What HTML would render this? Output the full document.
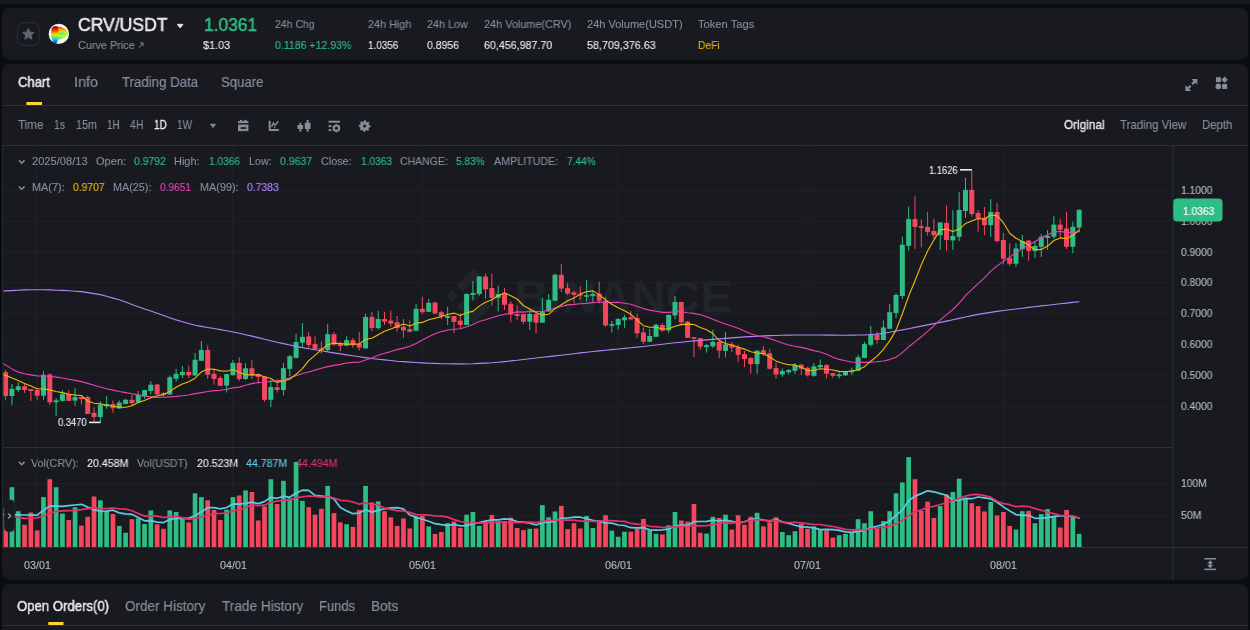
<!DOCTYPE html><html><head><meta charset="utf-8"><title>CRV/USDT</title><style>
html,body{margin:0;padding:0;background:#0b0e11}body{width:1250px;height:630px;position:relative;overflow:hidden;font-family:"Liberation Sans",sans-serif}.p{position:absolute;background:#181a20}.t{will-change:transform;position:absolute;white-space:nowrap;line-height:1;transform-origin:0 0;display:block}
</style></head><body>
<div class="p" style="left:0;top:0;width:1250px;height:4px"></div>
<div class="p" style="left:2px;top:8px;width:1246px;height:52px;border-radius:8px"></div>
<div class="p" style="left:2px;top:64px;width:1246px;height:516px;border-radius:8px"></div>
<div class="p" style="left:2px;top:584px;width:1246px;height:60px;border-radius:8px 8px 0 0"></div>
<span class="t" id="t49" style="left:31.4px;top:457.86px;font-size:10.8px;color:#848e9c;-webkit-text-stroke:0.12px #848e9c;transform:scaleX(0.9958)">Vol(CRV):</span>
<span class="t" id="t50" style="left:87.4px;top:457.86px;font-size:10.8px;color:#eaecef;-webkit-text-stroke:0.12px #eaecef;transform:scaleX(0.9857)">20.458M</span>
<span class="t" id="t51" style="left:137.2px;top:457.86px;font-size:10.8px;color:#848e9c;-webkit-text-stroke:0.12px #848e9c;transform:scaleX(0.9808)">Vol(USDT)</span>
<span class="t" id="t52" style="left:196.9px;top:457.86px;font-size:10.8px;color:#eaecef;-webkit-text-stroke:0.12px #eaecef;transform:scaleX(0.9786)">20.523M</span>
<span class="t" id="t53" style="left:246.4px;top:457.86px;font-size:10.8px;color:#5ccbe6;-webkit-text-stroke:0.12px #5ccbe6;transform:scaleX(0.9810)">44.787M</span>
<span class="t" id="t54" style="left:296.0px;top:457.86px;font-size:10.8px;color:#e0336a;-webkit-text-stroke:0.12px #e0336a;transform:scaleX(0.9857)">44.494M</span>
<span class="t" id="t57" style="left:1181.4px;top:184.86px;font-size:10.8px;color:#b7bdc6;-webkit-text-stroke:0.12px #b7bdc6;transform:scaleX(0.9515)">1.1000</span>
<span class="t" id="t58" style="left:1181.4px;top:215.69px;font-size:10.8px;color:#b7bdc6;-webkit-text-stroke:0.12px #b7bdc6;transform:scaleX(0.9515)">1.0000</span>
<span class="t" id="t59" style="left:1181.4px;top:246.52px;font-size:10.8px;color:#b7bdc6;-webkit-text-stroke:0.12px #b7bdc6;transform:scaleX(0.9515)">0.9000</span>
<span class="t" id="t60" style="left:1181.4px;top:277.35px;font-size:10.8px;color:#b7bdc6;-webkit-text-stroke:0.12px #b7bdc6;transform:scaleX(0.9515)">0.8000</span>
<span class="t" id="t61" style="left:1181.4px;top:308.18px;font-size:10.8px;color:#b7bdc6;-webkit-text-stroke:0.12px #b7bdc6;transform:scaleX(0.9515)">0.7000</span>
<span class="t" id="t62" style="left:1181.4px;top:339.01px;font-size:10.8px;color:#b7bdc6;-webkit-text-stroke:0.12px #b7bdc6;transform:scaleX(0.9515)">0.6000</span>
<span class="t" id="t63" style="left:1181.4px;top:369.84px;font-size:10.8px;color:#b7bdc6;-webkit-text-stroke:0.12px #b7bdc6;transform:scaleX(0.9515)">0.5000</span>
<span class="t" id="t64" style="left:1181.4px;top:400.67px;font-size:10.8px;color:#b7bdc6;-webkit-text-stroke:0.12px #b7bdc6;transform:scaleX(0.9515)">0.4000</span>
<span class="t" id="t79" style="left:513.5px;top:275.23px;font-size:44.5px;color:#212429;font-weight:700;transform:scaleX(1.0768)">BINANCE</span>
<svg width="1250" height="630" viewBox="0 0 1250 630" style="position:absolute;left:0;top:0">
<defs><clipPath id="cm"><rect x="3.4" y="146" width="1169.1" height="301"/></clipPath><clipPath id="cv"><rect x="3.4" y="448" width="1169.1" height="99.5"/></clipPath><linearGradient id="g1" x1="0" y1="0" x2="0" y2="1"><stop offset="0" stop-color="#8a0000"/><stop offset=".18" stop-color="#e01800"/><stop offset=".38" stop-color="#ff8c00"/><stop offset=".52" stop-color="#e8f000"/><stop offset=".66" stop-color="#38f088"/><stop offset=".8" stop-color="#00c8f0"/><stop offset="1" stop-color="#0010e0"/></linearGradient><linearGradient id="g2" x1="0" y1="0" x2="0" y2="1"><stop offset="0" stop-color="#ff3000"/><stop offset=".25" stop-color="#ffb000"/><stop offset=".45" stop-color="#c8f820"/><stop offset=".55" stop-color="#60f870"/><stop offset=".7" stop-color="#e8f000"/><stop offset=".85" stop-color="#60f080"/><stop offset="1" stop-color="#10e8d8"/></linearGradient></defs>
<rect x="3" y="189.5" width="1169.5" height="1" fill="#1f2329"/>
<rect x="3" y="220.5" width="1169.5" height="1" fill="#1f2329"/>
<rect x="3" y="251.5" width="1169.5" height="1" fill="#1f2329"/>
<rect x="3" y="282.5" width="1169.5" height="1" fill="#1f2329"/>
<rect x="3" y="313.5" width="1169.5" height="1" fill="#1f2329"/>
<rect x="3" y="343.5" width="1169.5" height="1" fill="#1f2329"/>
<rect x="3" y="374.5" width="1169.5" height="1" fill="#1f2329"/>
<rect x="3" y="405.5" width="1169.5" height="1" fill="#1f2329"/>
<rect x="3" y="483.0" width="1169.5" height="1" fill="#1f2329"/>
<rect x="3" y="515.0" width="1169.5" height="1" fill="#1f2329"/>
<rect x="36.5" y="146" width="1" height="401" fill="#1f2329"/>
<rect x="232.5" y="146" width="1" height="401" fill="#1f2329"/>
<rect x="421.5" y="146" width="1" height="401" fill="#1f2329"/>
<rect x="617.5" y="146" width="1" height="401" fill="#1f2329"/>
<rect x="807.5" y="146" width="1" height="401" fill="#1f2329"/>
<rect x="1002.5" y="146" width="1" height="401" fill="#1f2329"/>
<rect x="2" y="105" width="1246" height="1" fill="#2b3139"/>
<rect x="2" y="145" width="1246" height="1" fill="#2b3139"/>
<rect x="2" y="447" width="1170.5" height="1" fill="#2b3139"/>
<rect x="2" y="547" width="1246" height="1" fill="#2b3139"/>
<rect x="1172.5" y="146" width="1" height="434" fill="#2b3139"/>
<rect x="2" y="146" width="1" height="402" fill="#252930"/>
<rect x="2" y="625" width="1246" height="1" fill="#2b3139"/>
<rect x="26.4" y="102" width="15.6" height="3" fill="#fcd535"/>
<rect x="48.3" y="622" width="15.2" height="3" fill="#fcd535"/>
<g fill="#212429">
<g transform="translate(445.8 267.9) scale(0.4423)"><path d="M38.73,53.2 L63.3,28.63 L87.88,53.21 L102.18,38.91 L63.3,0 L24.43,38.9 Z"/><path d="M0,63.31 L14.3,49.01 L28.6,63.31 L14.3,77.61 Z"/><path d="M38.73,73.41 L63.3,98 L87.88,73.4 L102.18,87.69 L63.3,126.61 L24.43,87.7 Z"/><path d="M98,63.31 L112.3,49.01 L126.6,63.31 L112.3,77.61 Z"/><path d="M77.83,63.3 L63.3,48.78 L48.8,63.28 L63.3,77.82 Z"/></g>
</g>
<g clip-path="url(#cm)">
<rect x="5.10" y="370.0" width="1" height="29.8" fill="#f6465d"/><rect x="3.10" y="372.1" width="5" height="23.9" fill="#f6465d"/>
<rect x="11.41" y="384.0" width="1" height="21.0" fill="#2ebd85"/><rect x="9.41" y="388.9" width="5" height="7.1" fill="#2ebd85"/>
<rect x="17.73" y="382.2" width="1" height="9.8" fill="#2ebd85"/><rect x="15.73" y="386.3" width="5" height="3.7" fill="#2ebd85"/>
<rect x="24.05" y="384.2" width="1" height="8.7" fill="#f6465d"/><rect x="22.05" y="386.3" width="5" height="3.7" fill="#f6465d"/>
<rect x="30.36" y="389.1" width="1" height="11.8" fill="#f6465d"/><rect x="28.36" y="389.1" width="5" height="1.9" fill="#f6465d"/>
<rect x="36.68" y="388.4" width="1" height="11.4" fill="#f6465d"/><rect x="34.68" y="390.0" width="5" height="5.7" fill="#f6465d"/>
<rect x="42.99" y="371.2" width="1" height="28.6" fill="#2ebd85"/><rect x="40.99" y="374.9" width="5" height="20.8" fill="#2ebd85"/>
<rect x="49.31" y="373.3" width="1" height="31.5" fill="#f6465d"/><rect x="47.31" y="374.4" width="5" height="28.0" fill="#f6465d"/>
<rect x="55.62" y="398.1" width="1" height="17.9" fill="#2ebd85"/><rect x="53.62" y="400.4" width="5" height="1.8" fill="#2ebd85"/>
<rect x="61.94" y="390.2" width="1" height="11.2" fill="#2ebd85"/><rect x="59.94" y="394.1" width="5" height="6.8" fill="#2ebd85"/>
<rect x="68.25" y="390.0" width="1" height="10.9" fill="#f6465d"/><rect x="66.25" y="393.9" width="5" height="7.0" fill="#f6465d"/>
<rect x="74.56" y="388.4" width="1" height="17.4" fill="#2ebd85"/><rect x="72.56" y="397.0" width="5" height="3.6" fill="#2ebd85"/>
<rect x="80.88" y="396.7" width="1" height="7.8" fill="#f6465d"/><rect x="78.88" y="397.0" width="5" height="2.1" fill="#f6465d"/>
<rect x="87.19" y="395.7" width="1" height="18.2" fill="#f6465d"/><rect x="85.19" y="397.0" width="5" height="16.9" fill="#f6465d"/>
<rect x="93.51" y="407.1" width="1" height="14.6" fill="#f6465d"/><rect x="91.51" y="412.8" width="5" height="4.2" fill="#f6465d"/>
<rect x="99.83" y="401.2" width="1" height="21.0" fill="#2ebd85"/><rect x="97.83" y="405.0" width="5" height="12.0" fill="#2ebd85"/>
<rect x="106.14" y="396.0" width="1" height="12.9" fill="#2ebd85"/><rect x="104.14" y="404.0" width="5" height="2.3" fill="#2ebd85"/>
<rect x="112.45" y="400.4" width="1" height="12.4" fill="#f6465d"/><rect x="110.45" y="404.0" width="5" height="4.2" fill="#f6465d"/>
<rect x="118.77" y="400.4" width="1" height="8.3" fill="#2ebd85"/><rect x="116.77" y="402.6" width="5" height="5.9" fill="#2ebd85"/>
<rect x="125.09" y="398.8" width="1" height="5.5" fill="#2ebd85"/><rect x="123.09" y="399.8" width="5" height="4.2" fill="#2ebd85"/>
<rect x="131.40" y="394.6" width="1" height="10.9" fill="#f6465d"/><rect x="129.40" y="399.8" width="5" height="3.3" fill="#f6465d"/>
<rect x="137.72" y="391.0" width="1" height="11.4" fill="#2ebd85"/><rect x="135.72" y="395.1" width="5" height="7.3" fill="#2ebd85"/>
<rect x="144.03" y="389.9" width="1" height="8.9" fill="#2ebd85"/><rect x="142.03" y="390.1" width="5" height="6.1" fill="#2ebd85"/>
<rect x="150.34" y="381.1" width="1" height="13.0" fill="#2ebd85"/><rect x="148.34" y="384.7" width="5" height="6.3" fill="#2ebd85"/>
<rect x="156.66" y="383.9" width="1" height="11.0" fill="#f6465d"/><rect x="154.66" y="384.5" width="5" height="9.8" fill="#f6465d"/>
<rect x="162.97" y="392.0" width="1" height="4.7" fill="#f6465d"/><rect x="160.97" y="393.2" width="5" height="1.9" fill="#f6465d"/>
<rect x="169.29" y="375.6" width="1" height="19.3" fill="#2ebd85"/><rect x="167.29" y="377.2" width="5" height="17.4" fill="#2ebd85"/>
<rect x="175.61" y="368.9" width="1" height="12.7" fill="#2ebd85"/><rect x="173.61" y="373.8" width="5" height="4.9" fill="#2ebd85"/>
<rect x="181.92" y="366.0" width="1" height="12.0" fill="#2ebd85"/><rect x="179.92" y="371.9" width="5" height="3.3" fill="#2ebd85"/>
<rect x="188.24" y="365.8" width="1" height="12.2" fill="#f6465d"/><rect x="186.24" y="371.9" width="5" height="3.5" fill="#f6465d"/>
<rect x="194.55" y="353.0" width="1" height="22.9" fill="#2ebd85"/><rect x="192.55" y="359.8" width="5" height="15.6" fill="#2ebd85"/>
<rect x="200.87" y="341.0" width="1" height="19.8" fill="#2ebd85"/><rect x="198.87" y="349.9" width="5" height="10.9" fill="#2ebd85"/>
<rect x="207.18" y="345.4" width="1" height="33.6" fill="#f6465d"/><rect x="205.18" y="349.9" width="5" height="24.9" fill="#f6465d"/>
<rect x="213.50" y="368.6" width="1" height="16.1" fill="#f6465d"/><rect x="211.50" y="373.8" width="5" height="5.2" fill="#f6465d"/>
<rect x="219.81" y="375.9" width="1" height="10.6" fill="#f6465d"/><rect x="217.81" y="378.0" width="5" height="7.8" fill="#f6465d"/>
<rect x="226.12" y="373.8" width="1" height="18.7" fill="#2ebd85"/><rect x="224.12" y="374.1" width="5" height="11.5" fill="#2ebd85"/>
<rect x="232.44" y="360.0" width="1" height="15.6" fill="#2ebd85"/><rect x="230.44" y="362.9" width="5" height="12.3" fill="#2ebd85"/>
<rect x="238.75" y="357.2" width="1" height="23.9" fill="#f6465d"/><rect x="236.75" y="362.9" width="5" height="16.1" fill="#f6465d"/>
<rect x="245.07" y="363.1" width="1" height="16.9" fill="#2ebd85"/><rect x="243.07" y="368.3" width="5" height="10.7" fill="#2ebd85"/>
<rect x="251.39" y="360.3" width="1" height="18.5" fill="#f6465d"/><rect x="249.39" y="368.2" width="5" height="7.3" fill="#f6465d"/>
<rect x="257.70" y="373.3" width="1" height="11.1" fill="#f6465d"/><rect x="255.70" y="374.0" width="5" height="3.0" fill="#f6465d"/>
<rect x="264.02" y="376.2" width="1" height="25.6" fill="#f6465d"/><rect x="262.02" y="376.7" width="5" height="23.1" fill="#f6465d"/>
<rect x="270.33" y="379.9" width="1" height="27.3" fill="#2ebd85"/><rect x="268.33" y="387.0" width="5" height="12.8" fill="#2ebd85"/>
<rect x="276.65" y="378.7" width="1" height="13.8" fill="#f6465d"/><rect x="274.65" y="387.3" width="5" height="2.7" fill="#f6465d"/>
<rect x="282.96" y="363.0" width="1" height="32.4" fill="#2ebd85"/><rect x="280.96" y="368.1" width="5" height="21.9" fill="#2ebd85"/>
<rect x="289.28" y="354.8" width="1" height="21.4" fill="#2ebd85"/><rect x="287.28" y="356.3" width="5" height="12.6" fill="#2ebd85"/>
<rect x="295.59" y="333.9" width="1" height="24.6" fill="#2ebd85"/><rect x="293.59" y="342.0" width="5" height="15.8" fill="#2ebd85"/>
<rect x="301.91" y="323.1" width="1" height="23.6" fill="#2ebd85"/><rect x="299.91" y="336.8" width="5" height="5.9" fill="#2ebd85"/>
<rect x="308.22" y="332.0" width="1" height="16.2" fill="#f6465d"/><rect x="306.22" y="336.4" width="5" height="8.6" fill="#f6465d"/>
<rect x="314.54" y="336.4" width="1" height="12.8" fill="#f6465d"/><rect x="312.54" y="344.1" width="5" height="4.8" fill="#f6465d"/>
<rect x="320.85" y="341.3" width="1" height="12.4" fill="#f6465d"/><rect x="318.85" y="348.2" width="5" height="1.9" fill="#f6465d"/>
<rect x="327.17" y="324.1" width="1" height="27.1" fill="#2ebd85"/><rect x="325.17" y="334.2" width="5" height="15.9" fill="#2ebd85"/>
<rect x="333.48" y="332.0" width="1" height="14.0" fill="#f6465d"/><rect x="331.48" y="334.2" width="5" height="10.3" fill="#f6465d"/>
<rect x="339.80" y="341.6" width="1" height="9.6" fill="#f6465d"/><rect x="337.80" y="344.1" width="5" height="1.9" fill="#f6465d"/>
<rect x="346.11" y="336.1" width="1" height="10.2" fill="#2ebd85"/><rect x="344.11" y="340.1" width="5" height="5.6" fill="#2ebd85"/>
<rect x="352.43" y="337.9" width="1" height="9.9" fill="#f6465d"/><rect x="350.43" y="340.1" width="5" height="5.1" fill="#f6465d"/>
<rect x="358.74" y="331.9" width="1" height="18.6" fill="#f6465d"/><rect x="356.74" y="344.0" width="5" height="3.6" fill="#f6465d"/>
<rect x="365.06" y="313.6" width="1" height="35.1" fill="#2ebd85"/><rect x="363.06" y="316.9" width="5" height="31.5" fill="#2ebd85"/>
<rect x="371.37" y="311.9" width="1" height="19.2" fill="#f6465d"/><rect x="369.37" y="316.9" width="5" height="11.2" fill="#f6465d"/>
<rect x="377.69" y="310.9" width="1" height="18.8" fill="#2ebd85"/><rect x="375.69" y="319.0" width="5" height="9.1" fill="#2ebd85"/>
<rect x="384.00" y="311.9" width="1" height="13.1" fill="#f6465d"/><rect x="382.00" y="319.0" width="5" height="2.6" fill="#f6465d"/>
<rect x="390.32" y="310.6" width="1" height="16.2" fill="#f6465d"/><rect x="388.32" y="320.6" width="5" height="3.1" fill="#f6465d"/>
<rect x="396.63" y="316.0" width="1" height="15.8" fill="#f6465d"/><rect x="394.63" y="322.3" width="5" height="5.8" fill="#f6465d"/>
<rect x="402.95" y="319.0" width="1" height="18.8" fill="#f6465d"/><rect x="400.95" y="326.8" width="5" height="3.6" fill="#f6465d"/>
<rect x="409.26" y="320.3" width="1" height="12.1" fill="#f6465d"/><rect x="407.26" y="329.1" width="5" height="2.7" fill="#f6465d"/>
<rect x="415.58" y="304.1" width="1" height="27.0" fill="#2ebd85"/><rect x="413.58" y="308.8" width="5" height="22.0" fill="#2ebd85"/>
<rect x="421.89" y="297.1" width="1" height="16.7" fill="#f6465d"/><rect x="419.89" y="308.8" width="5" height="3.4" fill="#f6465d"/>
<rect x="428.21" y="299.0" width="1" height="12.9" fill="#2ebd85"/><rect x="426.21" y="302.8" width="5" height="9.1" fill="#2ebd85"/>
<rect x="434.52" y="301.7" width="1" height="12.1" fill="#f6465d"/><rect x="432.52" y="302.5" width="5" height="11.1" fill="#f6465d"/>
<rect x="440.84" y="310.9" width="1" height="8.1" fill="#f6465d"/><rect x="438.84" y="312.2" width="5" height="4.3" fill="#f6465d"/>
<rect x="447.15" y="306.8" width="1" height="18.2" fill="#2ebd85"/><rect x="445.15" y="316.0" width="5" height="1.9" fill="#2ebd85"/>
<rect x="453.47" y="316.0" width="1" height="17.1" fill="#f6465d"/><rect x="451.47" y="316.0" width="5" height="5.9" fill="#f6465d"/>
<rect x="459.78" y="313.3" width="1" height="15.1" fill="#f6465d"/><rect x="457.78" y="320.6" width="5" height="4.4" fill="#f6465d"/>
<rect x="466.10" y="293.3" width="1" height="31.7" fill="#2ebd85"/><rect x="464.10" y="294.0" width="5" height="31.0" fill="#2ebd85"/>
<rect x="472.41" y="280.9" width="1" height="19.2" fill="#2ebd85"/><rect x="470.41" y="293.1" width="5" height="1.8" fill="#2ebd85"/>
<rect x="478.73" y="276.1" width="1" height="19.7" fill="#2ebd85"/><rect x="476.73" y="276.5" width="5" height="17.5" fill="#2ebd85"/>
<rect x="485.04" y="273.4" width="1" height="25.3" fill="#f6465d"/><rect x="483.04" y="276.5" width="5" height="12.8" fill="#f6465d"/>
<rect x="491.36" y="274.0" width="1" height="31.6" fill="#f6465d"/><rect x="489.36" y="288.0" width="5" height="9.9" fill="#f6465d"/>
<rect x="497.67" y="285.6" width="1" height="25.9" fill="#2ebd85"/><rect x="495.67" y="294.0" width="5" height="3.8" fill="#2ebd85"/>
<rect x="503.99" y="288.1" width="1" height="21.8" fill="#f6465d"/><rect x="501.99" y="293.7" width="5" height="11.1" fill="#f6465d"/>
<rect x="510.30" y="301.1" width="1" height="21.2" fill="#f6465d"/><rect x="508.30" y="303.8" width="5" height="10.8" fill="#f6465d"/>
<rect x="516.62" y="305.2" width="1" height="14.8" fill="#f6465d"/><rect x="514.62" y="314.0" width="5" height="2.0" fill="#f6465d"/>
<rect x="522.93" y="314.0" width="1" height="10.1" fill="#f6465d"/><rect x="520.93" y="314.0" width="5" height="7.8" fill="#f6465d"/>
<rect x="529.25" y="309.2" width="1" height="20.7" fill="#2ebd85"/><rect x="527.25" y="314.0" width="5" height="7.8" fill="#2ebd85"/>
<rect x="535.56" y="313.3" width="1" height="19.8" fill="#f6465d"/><rect x="533.56" y="314.0" width="5" height="8.7" fill="#f6465d"/>
<rect x="541.88" y="297.8" width="1" height="24.9" fill="#2ebd85"/><rect x="539.88" y="311.3" width="5" height="11.4" fill="#2ebd85"/>
<rect x="548.19" y="294.0" width="1" height="17.9" fill="#2ebd85"/><rect x="546.19" y="299.8" width="5" height="11.7" fill="#2ebd85"/>
<rect x="554.51" y="273.5" width="1" height="27.2" fill="#2ebd85"/><rect x="552.51" y="274.8" width="5" height="25.9" fill="#2ebd85"/>
<rect x="560.82" y="263.8" width="1" height="28.3" fill="#f6465d"/><rect x="558.82" y="274.8" width="5" height="13.8" fill="#f6465d"/>
<rect x="567.14" y="283.2" width="1" height="11.9" fill="#f6465d"/><rect x="565.14" y="288.1" width="5" height="5.4" fill="#f6465d"/>
<rect x="573.45" y="290.8" width="1" height="12.6" fill="#f6465d"/><rect x="571.45" y="292.4" width="5" height="2.4" fill="#f6465d"/>
<rect x="579.77" y="286.3" width="1" height="13.5" fill="#f6465d"/><rect x="577.77" y="294.4" width="5" height="1.3" fill="#f6465d"/>
<rect x="586.08" y="280.0" width="1" height="21.8" fill="#2ebd85"/><rect x="584.08" y="295.1" width="5" height="1.6" fill="#2ebd85"/>
<rect x="592.40" y="290.3" width="1" height="11.5" fill="#2ebd85"/><rect x="590.40" y="294.0" width="5" height="2.1" fill="#2ebd85"/>
<rect x="598.71" y="281.6" width="1" height="21.8" fill="#f6465d"/><rect x="596.71" y="293.7" width="5" height="7.0" fill="#f6465d"/>
<rect x="605.03" y="297.1" width="1" height="29.7" fill="#f6465d"/><rect x="603.03" y="300.7" width="5" height="24.7" fill="#f6465d"/>
<rect x="611.34" y="321.0" width="1" height="11.6" fill="#2ebd85"/><rect x="609.34" y="324.1" width="5" height="1.7" fill="#2ebd85"/>
<rect x="617.66" y="318.1" width="1" height="11.5" fill="#2ebd85"/><rect x="615.66" y="319.0" width="5" height="6.0" fill="#2ebd85"/>
<rect x="623.97" y="314.9" width="1" height="13.0" fill="#2ebd85"/><rect x="621.97" y="317.3" width="5" height="3.0" fill="#2ebd85"/>
<rect x="630.29" y="310.8" width="1" height="9.5" fill="#f6465d"/><rect x="628.29" y="317.2" width="5" height="2.1" fill="#f6465d"/>
<rect x="636.60" y="313.9" width="1" height="23.9" fill="#f6465d"/><rect x="634.60" y="318.0" width="5" height="15.3" fill="#f6465d"/>
<rect x="642.92" y="327.4" width="1" height="16.5" fill="#f6465d"/><rect x="640.92" y="332.4" width="5" height="9.4" fill="#f6465d"/>
<rect x="649.23" y="329.0" width="1" height="13.2" fill="#2ebd85"/><rect x="647.23" y="336.0" width="5" height="5.8" fill="#2ebd85"/>
<rect x="655.55" y="323.9" width="1" height="13.2" fill="#2ebd85"/><rect x="653.55" y="324.7" width="5" height="12.1" fill="#2ebd85"/>
<rect x="661.86" y="323.0" width="1" height="8.7" fill="#f6465d"/><rect x="659.86" y="325.0" width="5" height="5.6" fill="#f6465d"/>
<rect x="668.18" y="314.5" width="1" height="18.3" fill="#2ebd85"/><rect x="666.18" y="314.9" width="5" height="15.5" fill="#2ebd85"/>
<rect x="674.49" y="296.0" width="1" height="23.3" fill="#2ebd85"/><rect x="672.49" y="302.0" width="5" height="13.5" fill="#2ebd85"/>
<rect x="680.81" y="301.8" width="1" height="23.2" fill="#f6465d"/><rect x="678.81" y="302.0" width="5" height="20.5" fill="#f6465d"/>
<rect x="687.12" y="320.9" width="1" height="16.9" fill="#f6465d"/><rect x="685.12" y="321.6" width="5" height="16.2" fill="#f6465d"/>
<rect x="693.44" y="337.1" width="1" height="20.0" fill="#f6465d"/><rect x="691.44" y="337.1" width="5" height="1.6" fill="#f6465d"/>
<rect x="699.75" y="337.8" width="1" height="12.1" fill="#f6465d"/><rect x="697.75" y="338.2" width="5" height="8.4" fill="#f6465d"/>
<rect x="706.07" y="344.1" width="1" height="8.5" fill="#2ebd85"/><rect x="704.07" y="345.2" width="5" height="2.0" fill="#2ebd85"/>
<rect x="712.38" y="329.7" width="1" height="18.5" fill="#2ebd85"/><rect x="710.38" y="341.8" width="5" height="4.5" fill="#2ebd85"/>
<rect x="718.70" y="341.2" width="1" height="16.8" fill="#f6465d"/><rect x="716.70" y="341.8" width="5" height="8.8" fill="#f6465d"/>
<rect x="725.01" y="332.0" width="1" height="25.3" fill="#2ebd85"/><rect x="723.01" y="344.5" width="5" height="6.4" fill="#2ebd85"/>
<rect x="731.33" y="341.8" width="1" height="10.2" fill="#f6465d"/><rect x="729.33" y="344.5" width="5" height="3.1" fill="#f6465d"/>
<rect x="737.64" y="344.9" width="1" height="17.2" fill="#f6465d"/><rect x="735.64" y="347.2" width="5" height="7.7" fill="#f6465d"/>
<rect x="743.96" y="350.9" width="1" height="16.1" fill="#f6465d"/><rect x="741.96" y="354.1" width="5" height="4.9" fill="#f6465d"/>
<rect x="750.27" y="357.3" width="1" height="16.5" fill="#f6465d"/><rect x="748.27" y="358.0" width="5" height="6.1" fill="#f6465d"/>
<rect x="756.59" y="350.2" width="1" height="23.6" fill="#2ebd85"/><rect x="754.59" y="350.6" width="5" height="13.5" fill="#2ebd85"/>
<rect x="762.90" y="346.1" width="1" height="9.9" fill="#f6465d"/><rect x="760.90" y="350.2" width="5" height="4.0" fill="#f6465d"/>
<rect x="769.22" y="348.8" width="1" height="20.9" fill="#f6465d"/><rect x="767.22" y="353.3" width="5" height="15.4" fill="#f6465d"/>
<rect x="775.53" y="362.3" width="1" height="16.2" fill="#f6465d"/><rect x="773.53" y="368.1" width="5" height="6.4" fill="#f6465d"/>
<rect x="781.85" y="368.4" width="1" height="8.4" fill="#2ebd85"/><rect x="779.85" y="371.1" width="5" height="3.4" fill="#2ebd85"/>
<rect x="788.16" y="369.1" width="1" height="5.4" fill="#2ebd85"/><rect x="786.16" y="370.0" width="5" height="2.2" fill="#2ebd85"/>
<rect x="794.48" y="363.0" width="1" height="10.8" fill="#2ebd85"/><rect x="792.48" y="365.0" width="5" height="5.8" fill="#2ebd85"/>
<rect x="800.79" y="364.1" width="1" height="11.0" fill="#f6465d"/><rect x="798.79" y="364.6" width="5" height="4.1" fill="#f6465d"/>
<rect x="807.11" y="367.0" width="1" height="9.5" fill="#f6465d"/><rect x="805.11" y="367.7" width="5" height="7.7" fill="#f6465d"/>
<rect x="813.42" y="363.0" width="1" height="13.8" fill="#2ebd85"/><rect x="811.42" y="366.4" width="5" height="9.4" fill="#2ebd85"/>
<rect x="819.74" y="359.6" width="1" height="8.8" fill="#2ebd85"/><rect x="817.74" y="365.0" width="5" height="2.3" fill="#2ebd85"/>
<rect x="826.05" y="364.1" width="1" height="14.4" fill="#f6465d"/><rect x="824.05" y="365.0" width="5" height="8.8" fill="#f6465d"/>
<rect x="832.37" y="373.1" width="1" height="4.7" fill="#f6465d"/><rect x="830.37" y="373.1" width="5" height="2.7" fill="#f6465d"/>
<rect x="838.68" y="372.4" width="1" height="6.1" fill="#2ebd85"/><rect x="836.68" y="374.5" width="5" height="1.7" fill="#2ebd85"/>
<rect x="845.00" y="370.8" width="1" height="5.0" fill="#2ebd85"/><rect x="843.00" y="371.4" width="5" height="4.0" fill="#2ebd85"/>
<rect x="851.31" y="367.7" width="1" height="7.2" fill="#2ebd85"/><rect x="849.31" y="370.4" width="5" height="1.8" fill="#2ebd85"/>
<rect x="857.63" y="354.9" width="1" height="16.2" fill="#2ebd85"/><rect x="855.63" y="357.3" width="5" height="13.5" fill="#2ebd85"/>
<rect x="863.94" y="341.7" width="1" height="16.6" fill="#2ebd85"/><rect x="861.94" y="344.1" width="5" height="13.8" fill="#2ebd85"/>
<rect x="870.26" y="325.9" width="1" height="20.9" fill="#2ebd85"/><rect x="868.26" y="334.9" width="5" height="9.9" fill="#2ebd85"/>
<rect x="876.57" y="331.4" width="1" height="12.1" fill="#f6465d"/><rect x="874.57" y="334.8" width="5" height="5.2" fill="#f6465d"/>
<rect x="882.89" y="320.3" width="1" height="19.9" fill="#2ebd85"/><rect x="880.89" y="327.4" width="5" height="12.6" fill="#2ebd85"/>
<rect x="889.20" y="304.1" width="1" height="25.1" fill="#2ebd85"/><rect x="887.20" y="312.2" width="5" height="16.6" fill="#2ebd85"/>
<rect x="895.52" y="293.0" width="1" height="25.0" fill="#2ebd85"/><rect x="893.52" y="295.0" width="5" height="18.0" fill="#2ebd85"/>
<rect x="901.83" y="236.6" width="1" height="62.5" fill="#2ebd85"/><rect x="899.83" y="244.7" width="5" height="51.3" fill="#2ebd85"/>
<rect x="908.15" y="206.7" width="1" height="44.1" fill="#2ebd85"/><rect x="906.15" y="219.1" width="5" height="26.7" fill="#2ebd85"/>
<rect x="914.46" y="196.2" width="1" height="52.6" fill="#f6465d"/><rect x="912.46" y="219.1" width="5" height="7.8" fill="#f6465d"/>
<rect x="920.78" y="219.4" width="1" height="27.8" fill="#f6465d"/><rect x="918.78" y="226.1" width="5" height="1.8" fill="#f6465d"/>
<rect x="927.09" y="211.7" width="1" height="23.9" fill="#f6465d"/><rect x="925.09" y="226.9" width="5" height="5.0" fill="#f6465d"/>
<rect x="933.41" y="218.8" width="1" height="19.9" fill="#f6465d"/><rect x="931.41" y="231.0" width="5" height="4.3" fill="#f6465d"/>
<rect x="939.72" y="222.1" width="1" height="27.8" fill="#2ebd85"/><rect x="937.72" y="222.5" width="5" height="12.8" fill="#2ebd85"/>
<rect x="946.04" y="205.4" width="1" height="45.4" fill="#f6465d"/><rect x="944.04" y="222.9" width="5" height="17.1" fill="#f6465d"/>
<rect x="952.35" y="210.3" width="1" height="39.6" fill="#2ebd85"/><rect x="950.35" y="236.0" width="5" height="4.4" fill="#2ebd85"/>
<rect x="958.67" y="191.9" width="1" height="49.1" fill="#2ebd85"/><rect x="956.67" y="209.9" width="5" height="27.0" fill="#2ebd85"/>
<rect x="964.98" y="177.8" width="1" height="40.2" fill="#2ebd85"/><rect x="962.98" y="189.9" width="5" height="21.1" fill="#2ebd85"/>
<rect x="971.30" y="171.0" width="1" height="45.7" fill="#f6465d"/><rect x="969.30" y="189.9" width="5" height="24.1" fill="#f6465d"/>
<rect x="977.61" y="209.7" width="1" height="22.2" fill="#f6465d"/><rect x="975.61" y="213.0" width="5" height="5.0" fill="#f6465d"/>
<rect x="983.93" y="207.0" width="1" height="28.0" fill="#f6465d"/><rect x="981.93" y="218.0" width="5" height="7.2" fill="#f6465d"/>
<rect x="990.24" y="199.2" width="1" height="37.6" fill="#2ebd85"/><rect x="988.24" y="212.0" width="5" height="13.1" fill="#2ebd85"/>
<rect x="996.56" y="203.2" width="1" height="39.3" fill="#f6465d"/><rect x="994.56" y="212.0" width="5" height="29.0" fill="#f6465d"/>
<rect x="1002.87" y="233.0" width="1" height="31.5" fill="#f6465d"/><rect x="1000.87" y="240.0" width="5" height="18.8" fill="#f6465d"/>
<rect x="1009.19" y="243.1" width="1" height="22.9" fill="#f6465d"/><rect x="1007.19" y="258.1" width="5" height="5.7" fill="#f6465d"/>
<rect x="1015.50" y="243.2" width="1" height="23.8" fill="#2ebd85"/><rect x="1013.50" y="248.4" width="5" height="15.4" fill="#2ebd85"/>
<rect x="1021.82" y="234.9" width="1" height="22.0" fill="#2ebd85"/><rect x="1019.82" y="241.0" width="5" height="8.0" fill="#2ebd85"/>
<rect x="1028.13" y="239.9" width="1" height="20.7" fill="#f6465d"/><rect x="1026.13" y="240.6" width="5" height="10.3" fill="#f6465d"/>
<rect x="1034.44" y="242.0" width="1" height="16.0" fill="#2ebd85"/><rect x="1032.44" y="246.0" width="5" height="4.9" fill="#2ebd85"/>
<rect x="1040.76" y="234.0" width="1" height="22.9" fill="#2ebd85"/><rect x="1038.76" y="236.7" width="5" height="10.1" fill="#2ebd85"/>
<rect x="1047.08" y="230.0" width="1" height="20.0" fill="#2ebd85"/><rect x="1045.08" y="236.0" width="5" height="1.9" fill="#2ebd85"/>
<rect x="1053.39" y="216.1" width="1" height="22.9" fill="#2ebd85"/><rect x="1051.39" y="224.6" width="5" height="12.2" fill="#2ebd85"/>
<rect x="1059.70" y="218.8" width="1" height="18.9" fill="#f6465d"/><rect x="1057.70" y="224.6" width="5" height="5.2" fill="#f6465d"/>
<rect x="1066.02" y="211.9" width="1" height="37.0" fill="#f6465d"/><rect x="1064.02" y="228.5" width="5" height="18.3" fill="#f6465d"/>
<rect x="1072.34" y="221.8" width="1" height="31.4" fill="#2ebd85"/><rect x="1070.34" y="226.8" width="5" height="20.0" fill="#2ebd85"/>
<rect x="1078.65" y="209.6" width="1" height="22.6" fill="#2ebd85"/><rect x="1076.65" y="209.8" width="5" height="17.8" fill="#2ebd85"/>
</g>
<g clip-path="url(#cm)">
<polyline points="-0.7,291.3 5.6,290.9 11.9,290.6 18.2,290.2 24.5,289.9 30.9,289.8 37.2,289.8 43.5,289.7 49.8,289.9 56.1,290.2 62.4,290.4 68.8,290.8 75.1,291.2 81.4,291.6 87.7,292.6 94.0,293.6 100.3,294.6 106.6,296.3 113.0,298.1 119.3,299.8 125.6,302.1 131.9,304.5 138.2,306.8 144.5,309.0 150.8,311.1 157.2,313.3 163.5,315.5 169.8,317.7 176.1,319.9 182.4,321.7 188.7,323.5 195.1,325.2 201.4,326.4 207.7,327.5 214.0,328.5 220.3,329.6 226.6,330.8 232.9,332.0 239.3,333.3 245.6,334.7 251.9,336.1 258.2,337.6 264.5,339.2 270.8,340.8 277.1,342.3 283.5,343.6 289.8,345.0 296.1,346.4 302.4,347.6 308.7,348.7 315.0,349.8 321.4,350.8 327.7,351.9 334.0,352.9 340.3,353.9 346.6,354.9 352.9,355.8 359.2,356.7 365.6,357.6 371.9,358.5 378.2,359.2 384.5,359.9 390.8,360.5 397.1,361.2 403.4,361.6 409.8,362.1 416.1,362.5 422.4,362.9 428.7,363.2 435.0,363.4 441.3,363.7 447.7,363.8 454.0,363.9 460.3,363.9 466.6,364.0 472.9,363.8 479.2,363.4 485.5,363.1 491.9,362.8 498.2,362.2 504.5,361.6 510.8,360.9 517.1,360.3 523.4,359.5 529.7,358.7 536.1,358.0 542.4,357.2 548.7,356.6 555.0,355.9 561.3,355.2 567.6,354.5 574.0,353.7 580.3,352.9 586.6,352.2 592.9,351.5 599.2,350.9 605.5,350.2 611.8,349.6 618.2,349.0 624.5,348.4 630.8,347.7 637.1,347.1 643.4,346.5 649.7,345.8 656.0,345.0 662.4,344.3 668.7,343.5 675.0,342.8 681.3,342.2 687.6,341.5 693.9,340.9 700.3,340.4 706.6,339.9 712.9,339.4 719.2,338.9 725.5,338.4 731.8,337.9 738.1,337.4 744.5,336.9 750.8,336.6 757.1,336.2 763.4,335.9 769.7,335.6 776.0,335.5 782.3,335.3 788.7,335.1 795.0,335.0 801.3,335.0 807.6,335.0 813.9,335.0 820.2,335.0 826.6,335.1 832.9,335.1 839.2,335.2 845.5,335.2 851.8,335.1 858.1,335.0 864.4,335.0 870.8,334.5 877.1,334.1 883.4,333.3 889.7,332.2 896.0,331.0 902.3,329.9 908.6,328.7 915.0,327.4 921.3,326.1 927.6,324.9 933.9,323.6 940.2,322.4 946.5,321.1 952.9,319.8 959.2,318.4 965.5,317.0 971.8,315.6 978.1,314.4 984.4,313.4 990.7,312.4 997.1,311.4 1003.4,310.5 1009.7,309.7 1016.0,309.0 1022.3,308.2 1028.6,307.4 1034.9,306.7 1041.3,305.9 1047.6,305.2 1053.9,304.5 1060.2,303.8 1066.5,303.1 1072.8,302.4 1079.1,301.7" fill="none" stroke="#b385f8" stroke-width="1.1" stroke-linejoin="round" stroke-linecap="round"/>
<polyline points="-0.7,361.5 5.6,364.9 11.9,368.9 18.2,372.1 24.5,373.7 30.9,374.9 37.2,375.9 43.5,376.0 49.8,376.2 56.1,377.1 62.4,378.0 68.8,379.2 75.1,380.4 81.4,381.6 87.7,383.4 94.0,385.2 100.3,387.0 106.6,388.7 113.0,390.1 119.3,391.5 125.6,392.6 131.9,393.7 138.2,394.9 144.5,396.1 150.8,396.7 157.2,397.4 163.5,397.3 169.8,396.9 176.1,396.4 182.4,395.7 188.7,395.0 195.1,393.6 201.4,392.6 207.7,391.5 214.0,390.6 220.3,390.3 226.6,389.2 232.9,387.9 239.3,387.1 245.6,385.2 251.9,383.6 258.2,382.5 264.5,382.3 270.8,381.4 277.1,380.9 283.5,379.7 289.8,377.8 296.1,375.7 302.4,373.5 308.7,372.0 315.0,370.1 321.4,368.3 327.7,366.6 334.0,365.4 340.3,364.4 346.6,363.0 352.9,362.4 359.2,362.3 365.6,360.0 371.9,358.0 378.2,355.3 384.5,353.2 390.8,351.6 397.1,349.6 403.4,348.1 409.8,346.3 416.1,343.6 422.4,340.1 428.7,336.7 435.0,333.7 441.3,331.6 447.7,330.0 454.0,329.2 460.3,328.7 466.6,326.7 472.9,324.4 479.2,321.5 485.5,319.7 491.9,317.8 498.2,315.8 504.5,314.4 510.8,313.1 517.1,311.9 523.4,312.1 529.7,311.5 536.1,311.6 542.4,311.2 548.7,310.3 555.0,308.1 561.3,306.5 567.6,304.9 574.0,304.4 580.3,303.7 586.6,303.4 592.9,302.6 599.2,302.0 605.5,302.4 611.8,302.5 618.2,302.2 624.5,303.2 630.8,304.2 637.1,306.5 643.4,308.6 649.7,310.1 656.0,311.3 662.4,312.4 668.7,312.4 675.0,311.8 681.3,311.8 687.6,312.8 693.9,313.4 700.3,314.8 706.6,316.7 712.9,319.3 719.2,321.8 725.5,323.9 731.8,326.0 738.1,328.3 744.5,330.9 750.8,333.7 757.1,335.7 763.4,336.8 769.7,338.6 776.0,340.8 782.3,343.0 788.7,345.0 795.0,346.3 801.3,347.4 807.6,348.9 813.9,350.6 820.2,352.0 826.6,354.3 832.9,357.3 839.2,359.4 845.5,360.7 851.8,362.0 858.1,362.4 864.4,362.4 870.8,362.1 877.1,361.7 883.4,361.0 889.7,359.6 896.0,357.2 902.3,352.6 908.6,346.8 915.0,341.9 921.3,336.8 927.6,331.3 933.9,325.8 940.2,319.8 946.5,314.6 952.9,309.5 959.2,303.1 965.5,295.7 971.8,289.6 978.1,283.7 984.4,277.8 990.7,271.2 997.1,265.9 1003.4,261.4 1009.7,257.1 1016.0,252.8 1022.3,248.6 1028.6,245.3 1034.9,241.5 1041.3,237.9 1047.6,234.8 1053.9,232.0 1060.2,231.4 1066.5,232.5 1072.8,232.5 1079.1,231.8" fill="none" stroke="#eb40b5" stroke-width="1.1" stroke-linejoin="round" stroke-linecap="round"/>
<polyline points="-0.7,373.0 5.6,375.3 11.9,378.0 18.2,380.6 24.5,383.5 30.9,386.0 37.2,388.7 43.5,389.0 49.8,389.9 56.1,391.5 62.4,392.6 68.8,394.2 75.1,395.1 81.4,395.5 87.7,401.1 94.0,403.2 100.3,403.9 106.6,405.3 113.0,406.3 119.3,407.1 125.6,407.2 131.9,405.7 138.2,402.5 144.5,400.4 150.8,397.7 157.2,395.7 163.5,394.6 169.8,391.4 176.1,387.2 182.4,383.9 188.7,381.8 195.1,378.2 201.4,371.9 207.7,369.0 214.0,369.2 220.3,370.9 226.6,371.3 232.9,369.5 239.3,372.2 245.6,374.8 251.9,374.9 258.2,374.7 264.5,376.7 270.8,378.5 277.1,382.4 283.5,380.8 289.8,379.1 296.1,374.3 302.4,368.6 308.7,360.7 315.0,355.3 321.4,349.6 327.7,344.8 334.0,343.1 340.3,343.6 346.6,344.1 352.9,344.1 359.2,344.0 365.6,339.2 371.9,338.3 378.2,334.7 384.5,331.2 390.8,328.9 397.1,326.4 403.4,324.0 409.8,326.1 416.1,323.3 422.4,322.4 428.7,319.7 435.0,318.2 441.3,316.6 447.7,314.5 454.0,313.1 460.3,315.4 466.6,312.8 472.9,311.4 479.2,306.1 485.5,302.3 491.9,299.7 498.2,295.7 504.5,292.8 510.8,295.7 517.1,299.0 523.4,305.5 529.7,309.0 536.1,312.6 542.4,315.0 548.7,314.3 555.0,308.6 561.3,304.7 567.6,300.7 574.0,297.9 580.3,294.1 586.6,291.8 592.9,290.9 599.2,294.6 605.5,299.9 611.8,304.3 618.2,307.7 624.5,310.8 630.8,314.3 637.1,319.9 643.4,325.7 649.7,327.3 656.0,327.3 662.4,329.0 668.7,328.7 675.0,326.2 681.3,324.6 687.6,324.1 693.9,324.5 700.3,327.6 706.6,329.7 712.9,333.5 719.2,340.5 725.5,343.6 731.8,345.0 738.1,347.3 744.5,349.1 750.8,351.8 757.1,353.0 763.4,353.6 769.7,357.0 776.0,360.9 782.3,363.2 788.7,364.7 795.0,364.9 801.3,367.5 807.6,370.5 813.9,370.2 820.2,368.8 826.6,369.2 832.9,370.0 839.2,371.4 845.5,371.8 851.8,371.0 858.1,369.7 864.4,366.8 870.8,361.2 877.1,356.1 883.4,349.4 889.7,340.9 896.0,330.1 902.3,314.0 908.6,296.2 915.0,280.8 921.3,264.7 927.6,251.1 933.9,240.1 940.2,229.8 946.5,229.1 952.9,231.5 959.2,229.1 965.5,223.6 971.8,221.1 978.1,218.6 984.4,219.0 990.7,215.0 997.1,215.7 1003.4,222.7 1009.7,233.3 1016.0,238.2 1022.3,241.5 1028.6,245.1 1034.9,250.0 1041.3,249.4 1047.6,246.1 1053.9,240.5 1060.2,237.9 1066.5,238.7 1072.8,235.2 1079.1,230.1" fill="none" stroke="#f0b90b" stroke-width="1.1" stroke-linejoin="round" stroke-linecap="round"/>
</g>
<rect x="960" y="169" width="12" height="1.6" fill="#eaecef"/>
<rect x="89" y="421.6" width="11.5" height="1.6" fill="#eaecef"/>
<g clip-path="url(#cv)">
<rect x="3.25" y="508.0" width="4.7" height="39.0" fill="#f6465d"/>
<rect x="9.56" y="487.2" width="4.7" height="59.8" fill="#2ebd85"/>
<rect x="15.88" y="511.2" width="4.7" height="35.8" fill="#2ebd85"/>
<rect x="22.20" y="524.8" width="4.7" height="22.2" fill="#f6465d"/>
<rect x="28.51" y="512.5" width="4.7" height="34.5" fill="#f6465d"/>
<rect x="34.83" y="530.4" width="4.7" height="16.6" fill="#f6465d"/>
<rect x="41.14" y="497.1" width="4.7" height="49.9" fill="#2ebd85"/>
<rect x="47.46" y="479.2" width="4.7" height="67.8" fill="#f6465d"/>
<rect x="53.77" y="487.2" width="4.7" height="59.8" fill="#2ebd85"/>
<rect x="60.09" y="513.6" width="4.7" height="33.4" fill="#2ebd85"/>
<rect x="66.40" y="520.0" width="4.7" height="27.0" fill="#f6465d"/>
<rect x="72.72" y="507.2" width="4.7" height="39.8" fill="#2ebd85"/>
<rect x="79.03" y="525.6" width="4.7" height="21.4" fill="#f6465d"/>
<rect x="85.34" y="516.8" width="4.7" height="30.2" fill="#f6465d"/>
<rect x="91.66" y="496.5" width="4.7" height="50.5" fill="#f6465d"/>
<rect x="97.98" y="500.3" width="4.7" height="46.7" fill="#2ebd85"/>
<rect x="104.29" y="511.2" width="4.7" height="35.8" fill="#2ebd85"/>
<rect x="110.61" y="514.1" width="4.7" height="32.9" fill="#f6465d"/>
<rect x="116.92" y="525.9" width="4.7" height="21.1" fill="#2ebd85"/>
<rect x="123.24" y="532.8" width="4.7" height="14.2" fill="#2ebd85"/>
<rect x="129.55" y="519.2" width="4.7" height="27.8" fill="#f6465d"/>
<rect x="135.87" y="518.4" width="4.7" height="28.6" fill="#2ebd85"/>
<rect x="142.18" y="524.0" width="4.7" height="23.0" fill="#2ebd85"/>
<rect x="148.50" y="510.4" width="4.7" height="36.6" fill="#2ebd85"/>
<rect x="154.81" y="524.3" width="4.7" height="22.7" fill="#f6465d"/>
<rect x="161.12" y="528.8" width="4.7" height="18.2" fill="#f6465d"/>
<rect x="167.44" y="510.4" width="4.7" height="36.6" fill="#2ebd85"/>
<rect x="173.76" y="512.0" width="4.7" height="35.0" fill="#2ebd85"/>
<rect x="180.07" y="518.4" width="4.7" height="28.6" fill="#2ebd85"/>
<rect x="186.39" y="522.4" width="4.7" height="24.6" fill="#f6465d"/>
<rect x="192.70" y="493.3" width="4.7" height="53.7" fill="#2ebd85"/>
<rect x="199.02" y="497.1" width="4.7" height="49.9" fill="#2ebd85"/>
<rect x="205.33" y="500.3" width="4.7" height="46.7" fill="#f6465d"/>
<rect x="211.65" y="509.9" width="4.7" height="37.1" fill="#f6465d"/>
<rect x="217.96" y="520.0" width="4.7" height="27.0" fill="#f6465d"/>
<rect x="224.28" y="509.6" width="4.7" height="37.4" fill="#2ebd85"/>
<rect x="230.59" y="497.1" width="4.7" height="49.9" fill="#2ebd85"/>
<rect x="236.91" y="495.5" width="4.7" height="51.5" fill="#f6465d"/>
<rect x="243.22" y="490.4" width="4.7" height="56.6" fill="#2ebd85"/>
<rect x="249.54" y="492.0" width="4.7" height="55.0" fill="#f6465d"/>
<rect x="255.85" y="520.5" width="4.7" height="26.5" fill="#f6465d"/>
<rect x="262.17" y="506.4" width="4.7" height="40.6" fill="#f6465d"/>
<rect x="268.48" y="479.2" width="4.7" height="67.8" fill="#2ebd85"/>
<rect x="274.80" y="504.0" width="4.7" height="43.0" fill="#f6465d"/>
<rect x="281.11" y="480.8" width="4.7" height="66.2" fill="#2ebd85"/>
<rect x="287.43" y="498.4" width="4.7" height="48.6" fill="#2ebd85"/>
<rect x="293.74" y="461.9" width="4.7" height="85.1" fill="#2ebd85"/>
<rect x="300.06" y="500.8" width="4.7" height="46.2" fill="#2ebd85"/>
<rect x="306.37" y="507.2" width="4.7" height="39.8" fill="#f6465d"/>
<rect x="312.69" y="514.7" width="4.7" height="32.3" fill="#f6465d"/>
<rect x="319.00" y="508.8" width="4.7" height="38.2" fill="#f6465d"/>
<rect x="325.31" y="485.9" width="4.7" height="61.1" fill="#2ebd85"/>
<rect x="331.63" y="513.1" width="4.7" height="33.9" fill="#f6465d"/>
<rect x="337.94" y="522.4" width="4.7" height="24.6" fill="#f6465d"/>
<rect x="344.26" y="524.3" width="4.7" height="22.7" fill="#2ebd85"/>
<rect x="350.58" y="526.9" width="4.7" height="20.1" fill="#f6465d"/>
<rect x="356.89" y="509.9" width="4.7" height="37.1" fill="#f6465d"/>
<rect x="363.21" y="485.9" width="4.7" height="61.1" fill="#2ebd85"/>
<rect x="369.52" y="502.4" width="4.7" height="44.6" fill="#f6465d"/>
<rect x="375.84" y="501.3" width="4.7" height="45.7" fill="#2ebd85"/>
<rect x="382.15" y="511.2" width="4.7" height="35.8" fill="#f6465d"/>
<rect x="388.47" y="517.3" width="4.7" height="29.7" fill="#f6465d"/>
<rect x="394.78" y="525.9" width="4.7" height="21.1" fill="#f6465d"/>
<rect x="401.10" y="518.4" width="4.7" height="28.6" fill="#f6465d"/>
<rect x="407.41" y="528.5" width="4.7" height="18.5" fill="#f6465d"/>
<rect x="413.73" y="516.8" width="4.7" height="30.2" fill="#2ebd85"/>
<rect x="420.04" y="516.0" width="4.7" height="31.0" fill="#f6465d"/>
<rect x="426.36" y="526.4" width="4.7" height="20.6" fill="#2ebd85"/>
<rect x="432.67" y="533.9" width="4.7" height="13.1" fill="#f6465d"/>
<rect x="438.99" y="532.0" width="4.7" height="15.0" fill="#f6465d"/>
<rect x="445.30" y="523.2" width="4.7" height="23.8" fill="#2ebd85"/>
<rect x="451.62" y="521.6" width="4.7" height="25.4" fill="#f6465d"/>
<rect x="457.93" y="528.0" width="4.7" height="19.0" fill="#f6465d"/>
<rect x="464.25" y="514.7" width="4.7" height="32.3" fill="#2ebd85"/>
<rect x="470.56" y="512.0" width="4.7" height="35.0" fill="#2ebd85"/>
<rect x="476.88" y="525.9" width="4.7" height="21.1" fill="#2ebd85"/>
<rect x="483.19" y="522.4" width="4.7" height="24.6" fill="#f6465d"/>
<rect x="489.51" y="514.9" width="4.7" height="32.1" fill="#f6465d"/>
<rect x="495.82" y="521.1" width="4.7" height="25.9" fill="#2ebd85"/>
<rect x="502.14" y="521.1" width="4.7" height="25.9" fill="#f6465d"/>
<rect x="508.45" y="517.6" width="4.7" height="29.4" fill="#f6465d"/>
<rect x="514.76" y="528.0" width="4.7" height="19.0" fill="#f6465d"/>
<rect x="521.08" y="530.1" width="4.7" height="16.9" fill="#f6465d"/>
<rect x="527.39" y="528.8" width="4.7" height="18.2" fill="#2ebd85"/>
<rect x="533.71" y="528.5" width="4.7" height="18.5" fill="#f6465d"/>
<rect x="540.02" y="505.1" width="4.7" height="41.9" fill="#2ebd85"/>
<rect x="546.34" y="517.3" width="4.7" height="29.7" fill="#2ebd85"/>
<rect x="552.66" y="511.5" width="4.7" height="35.5" fill="#2ebd85"/>
<rect x="558.97" y="505.9" width="4.7" height="41.1" fill="#f6465d"/>
<rect x="565.29" y="529.1" width="4.7" height="17.9" fill="#f6465d"/>
<rect x="571.60" y="523.2" width="4.7" height="23.8" fill="#f6465d"/>
<rect x="577.92" y="528.5" width="4.7" height="18.5" fill="#f6465d"/>
<rect x="584.23" y="516.0" width="4.7" height="31.0" fill="#2ebd85"/>
<rect x="590.55" y="528.0" width="4.7" height="19.0" fill="#2ebd85"/>
<rect x="596.86" y="520.0" width="4.7" height="27.0" fill="#f6465d"/>
<rect x="603.18" y="515.2" width="4.7" height="31.8" fill="#f6465d"/>
<rect x="609.49" y="530.7" width="4.7" height="16.3" fill="#2ebd85"/>
<rect x="615.81" y="536.8" width="4.7" height="10.2" fill="#2ebd85"/>
<rect x="622.12" y="531.7" width="4.7" height="15.3" fill="#2ebd85"/>
<rect x="628.44" y="531.7" width="4.7" height="15.3" fill="#f6465d"/>
<rect x="634.75" y="528.5" width="4.7" height="18.5" fill="#f6465d"/>
<rect x="641.07" y="518.9" width="4.7" height="28.1" fill="#f6465d"/>
<rect x="647.38" y="530.1" width="4.7" height="16.9" fill="#2ebd85"/>
<rect x="653.70" y="533.9" width="4.7" height="13.1" fill="#2ebd85"/>
<rect x="660.01" y="534.4" width="4.7" height="12.6" fill="#f6465d"/>
<rect x="666.33" y="525.3" width="4.7" height="21.7" fill="#2ebd85"/>
<rect x="672.64" y="512.0" width="4.7" height="35.0" fill="#2ebd85"/>
<rect x="678.96" y="520.5" width="4.7" height="26.5" fill="#f6465d"/>
<rect x="685.27" y="521.6" width="4.7" height="25.4" fill="#f6465d"/>
<rect x="691.59" y="504.0" width="4.7" height="43.0" fill="#f6465d"/>
<rect x="697.90" y="532.8" width="4.7" height="14.2" fill="#f6465d"/>
<rect x="704.22" y="533.6" width="4.7" height="13.4" fill="#2ebd85"/>
<rect x="710.53" y="516.8" width="4.7" height="30.2" fill="#2ebd85"/>
<rect x="716.85" y="517.9" width="4.7" height="29.1" fill="#f6465d"/>
<rect x="723.16" y="514.7" width="4.7" height="32.3" fill="#2ebd85"/>
<rect x="729.48" y="529.6" width="4.7" height="17.4" fill="#f6465d"/>
<rect x="735.79" y="515.2" width="4.7" height="31.8" fill="#f6465d"/>
<rect x="742.11" y="524.8" width="4.7" height="22.2" fill="#f6465d"/>
<rect x="748.42" y="516.8" width="4.7" height="30.2" fill="#f6465d"/>
<rect x="754.74" y="512.8" width="4.7" height="34.2" fill="#2ebd85"/>
<rect x="761.05" y="526.4" width="4.7" height="20.6" fill="#f6465d"/>
<rect x="767.37" y="522.4" width="4.7" height="24.6" fill="#f6465d"/>
<rect x="773.68" y="517.3" width="4.7" height="29.7" fill="#f6465d"/>
<rect x="780.00" y="532.0" width="4.7" height="15.0" fill="#2ebd85"/>
<rect x="786.31" y="535.2" width="4.7" height="11.8" fill="#2ebd85"/>
<rect x="792.62" y="531.2" width="4.7" height="15.8" fill="#2ebd85"/>
<rect x="798.94" y="523.7" width="4.7" height="23.3" fill="#f6465d"/>
<rect x="805.25" y="528.8" width="4.7" height="18.2" fill="#f6465d"/>
<rect x="811.57" y="526.4" width="4.7" height="20.6" fill="#2ebd85"/>
<rect x="817.89" y="530.1" width="4.7" height="16.9" fill="#2ebd85"/>
<rect x="824.20" y="530.4" width="4.7" height="16.6" fill="#f6465d"/>
<rect x="830.52" y="537.6" width="4.7" height="9.4" fill="#f6465d"/>
<rect x="836.83" y="535.2" width="4.7" height="11.8" fill="#2ebd85"/>
<rect x="843.15" y="533.9" width="4.7" height="13.1" fill="#2ebd85"/>
<rect x="849.46" y="532.8" width="4.7" height="14.2" fill="#2ebd85"/>
<rect x="855.78" y="519.2" width="4.7" height="27.8" fill="#2ebd85"/>
<rect x="862.09" y="523.2" width="4.7" height="23.8" fill="#2ebd85"/>
<rect x="868.41" y="511.2" width="4.7" height="35.8" fill="#2ebd85"/>
<rect x="874.72" y="528.5" width="4.7" height="18.5" fill="#f6465d"/>
<rect x="881.04" y="521.1" width="4.7" height="25.9" fill="#2ebd85"/>
<rect x="887.35" y="511.2" width="4.7" height="35.8" fill="#2ebd85"/>
<rect x="893.67" y="493.3" width="4.7" height="53.7" fill="#2ebd85"/>
<rect x="899.98" y="482.4" width="4.7" height="64.6" fill="#2ebd85"/>
<rect x="906.30" y="457.1" width="4.7" height="89.9" fill="#2ebd85"/>
<rect x="912.61" y="479.2" width="4.7" height="67.8" fill="#f6465d"/>
<rect x="918.93" y="510.9" width="4.7" height="36.1" fill="#f6465d"/>
<rect x="925.24" y="501.6" width="4.7" height="45.4" fill="#f6465d"/>
<rect x="931.56" y="517.9" width="4.7" height="29.1" fill="#f6465d"/>
<rect x="937.87" y="506.1" width="4.7" height="40.9" fill="#2ebd85"/>
<rect x="944.19" y="494.4" width="4.7" height="52.6" fill="#f6465d"/>
<rect x="950.50" y="492.0" width="4.7" height="55.0" fill="#2ebd85"/>
<rect x="956.82" y="478.7" width="4.7" height="68.3" fill="#2ebd85"/>
<rect x="963.13" y="498.4" width="4.7" height="48.6" fill="#2ebd85"/>
<rect x="969.45" y="503.2" width="4.7" height="43.8" fill="#f6465d"/>
<rect x="975.76" y="506.1" width="4.7" height="40.9" fill="#f6465d"/>
<rect x="982.08" y="511.5" width="4.7" height="35.5" fill="#f6465d"/>
<rect x="988.39" y="501.9" width="4.7" height="45.1" fill="#2ebd85"/>
<rect x="994.71" y="515.5" width="4.7" height="31.5" fill="#f6465d"/>
<rect x="1001.02" y="512.0" width="4.7" height="35.0" fill="#f6465d"/>
<rect x="1007.34" y="525.9" width="4.7" height="21.1" fill="#f6465d"/>
<rect x="1013.65" y="529.6" width="4.7" height="17.4" fill="#2ebd85"/>
<rect x="1019.97" y="511.2" width="4.7" height="35.8" fill="#2ebd85"/>
<rect x="1026.28" y="510.9" width="4.7" height="36.1" fill="#f6465d"/>
<rect x="1032.60" y="523.2" width="4.7" height="23.8" fill="#2ebd85"/>
<rect x="1038.91" y="514.1" width="4.7" height="32.9" fill="#2ebd85"/>
<rect x="1045.23" y="509.1" width="4.7" height="37.9" fill="#2ebd85"/>
<rect x="1051.54" y="516.0" width="4.7" height="31.0" fill="#2ebd85"/>
<rect x="1057.86" y="527.5" width="4.7" height="19.5" fill="#f6465d"/>
<rect x="1064.17" y="509.9" width="4.7" height="37.1" fill="#f6465d"/>
<rect x="1070.49" y="515.7" width="4.7" height="31.3" fill="#2ebd85"/>
<rect x="1076.80" y="533.9" width="4.7" height="13.1" fill="#2ebd85"/>
</g>
<g clip-path="url(#cv)">
<polyline points="-0.7,514.3 5.6,514.5 11.9,514.7 18.2,514.9 24.5,515.0 30.9,515.2 37.2,515.2 43.5,510.2 49.8,506.1 56.1,506.1 62.4,506.4 68.8,505.7 75.1,505.0 81.4,504.3 87.7,507.1 94.0,509.6 100.3,511.4 106.6,511.1 113.0,510.2 119.3,512.9 125.6,513.9 131.9,514.3 138.2,517.4 144.5,520.8 150.8,520.7 157.2,522.1 163.5,522.6 169.8,519.4 176.1,518.3 182.4,518.3 188.7,518.1 195.1,515.7 201.4,511.8 207.7,507.7 214.0,507.6 220.3,508.8 226.6,507.5 232.9,503.9 239.3,504.2 245.6,503.3 251.9,502.1 258.2,503.6 264.5,501.6 270.8,497.3 277.1,498.3 283.5,496.2 289.8,497.3 296.1,493.0 302.4,490.2 308.7,490.3 315.0,495.4 321.4,496.1 327.7,496.8 334.0,498.9 340.3,507.6 346.6,510.9 352.9,513.7 359.2,513.0 365.6,509.8 371.9,512.1 378.2,510.4 384.5,508.8 390.8,507.8 397.1,507.7 403.4,508.9 409.8,515.0 416.1,517.1 422.4,519.2 428.7,521.3 435.0,523.7 441.3,524.6 447.7,525.3 454.0,524.3 460.3,525.9 466.6,525.7 472.9,523.6 479.2,522.5 485.5,521.1 491.9,519.9 498.2,519.9 504.5,518.9 510.8,519.3 517.1,521.6 523.4,522.2 529.7,523.1 536.1,525.0 542.4,522.7 548.7,522.2 555.0,521.3 561.3,518.2 567.6,518.0 574.0,517.2 580.3,517.2 586.6,518.8 592.9,520.3 599.2,521.5 605.5,522.9 611.8,523.1 618.2,525.0 624.5,525.5 630.8,527.7 637.1,527.8 643.4,527.6 649.7,529.8 656.0,530.2 662.4,529.9 668.7,529.0 675.0,526.2 681.3,525.0 687.6,525.4 693.9,521.7 700.3,521.5 706.6,521.4 712.9,520.2 719.2,521.0 725.5,520.2 731.8,521.3 738.1,522.9 744.5,521.8 750.8,519.4 757.1,518.8 763.4,520.0 769.7,521.1 776.0,519.4 782.3,521.8 788.7,523.3 795.0,525.3 801.3,526.9 807.6,527.2 813.9,527.8 820.2,529.6 826.6,529.4 832.9,529.7 839.2,530.3 845.5,531.8 851.8,532.3 858.1,531.3 864.4,530.3 870.8,527.6 877.1,526.3 883.4,524.3 889.7,521.0 896.0,515.4 902.3,510.1 908.6,500.7 915.0,496.1 921.3,493.6 927.6,490.8 933.9,491.8 940.2,493.6 946.5,495.3 952.9,500.3 959.2,500.2 965.5,498.4 971.8,498.7 978.1,497.0 984.4,497.8 990.7,498.8 997.1,502.2 1003.4,506.9 1009.7,510.9 1016.0,514.6 1022.3,515.4 1028.6,515.3 1034.9,518.3 1041.3,518.1 1047.6,517.7 1053.9,516.3 1060.2,516.0 1066.5,515.8 1072.8,516.5 1079.1,518.0" fill="none" stroke="#5ccbe6" stroke-width="1.7" stroke-linejoin="round" stroke-linecap="round"/>
<polyline points="-0.7,515.5 5.6,516.0 11.9,516.5 18.2,517.3 24.5,518.4 30.9,518.2 37.2,517.9 43.5,515.7 49.8,513.5 56.1,511.3 62.4,510.9 68.8,510.7 75.1,510.4 81.4,509.6 87.7,508.6 94.0,507.8 100.3,508.7 106.6,508.7 113.0,508.0 119.3,508.9 125.6,509.1 131.9,510.7 138.2,513.5 144.5,516.1 150.8,515.9 157.2,516.2 163.5,517.7 169.8,516.6 176.1,516.3 182.4,517.9 188.7,519.4 195.1,518.2 201.4,517.0 207.7,515.1 214.0,513.5 220.3,513.5 226.6,512.9 232.9,511.0 239.3,509.9 245.6,507.5 251.9,504.9 258.2,505.6 264.5,505.2 270.8,502.4 277.1,501.1 283.5,500.2 289.8,500.3 296.1,497.6 302.4,496.9 308.7,496.0 315.0,496.4 321.4,497.2 327.7,496.5 334.0,498.1 340.3,500.3 346.6,500.6 352.9,502.0 359.2,504.2 365.6,502.9 371.9,504.5 378.2,504.7 384.5,508.2 390.8,509.4 397.1,510.7 403.4,511.0 409.8,512.4 416.1,514.6 422.4,514.8 428.7,515.1 435.0,515.8 441.3,516.1 447.7,517.1 454.0,519.6 460.3,521.5 466.6,522.4 472.9,522.5 479.2,523.1 485.5,522.8 491.9,522.6 498.2,522.1 504.5,522.4 510.8,522.5 517.1,522.6 523.4,522.3 529.7,522.1 536.1,522.5 542.4,521.3 548.7,520.5 555.0,520.3 561.3,519.9 567.6,520.1 574.0,520.2 580.3,521.1 586.6,520.8 592.9,521.3 599.2,521.4 605.5,520.5 611.8,520.6 618.2,521.1 624.5,521.4 630.8,523.3 637.1,524.1 643.4,524.6 649.7,526.3 656.0,526.7 662.4,527.5 668.7,527.2 675.0,526.9 681.3,526.4 687.6,526.5 693.9,525.7 700.3,525.9 706.6,525.6 712.9,524.6 719.2,523.6 725.5,522.6 731.8,523.4 738.1,522.3 744.5,521.7 750.8,520.4 757.1,519.5 763.4,520.5 769.7,520.7 776.0,520.4 782.3,522.4 788.7,522.5 795.0,522.4 801.3,522.9 807.6,523.6 813.9,524.5 820.2,524.5 826.6,525.6 832.9,526.5 839.2,527.8 845.5,529.3 851.8,529.8 858.1,529.6 864.4,530.0 870.8,528.5 877.1,528.0 883.4,527.3 889.7,526.4 896.0,523.9 902.3,520.7 908.6,515.5 915.0,511.9 921.3,509.9 927.6,507.5 933.9,506.4 940.2,504.5 946.5,502.7 952.9,500.5 959.2,498.2 965.5,496.0 971.8,494.7 978.1,494.4 984.4,495.7 990.7,497.1 997.1,501.2 1003.4,503.6 1009.7,504.7 1016.0,506.7 1022.3,506.2 1028.6,506.5 1034.9,508.6 1041.3,510.2 1047.6,512.3 1053.9,513.6 1060.2,515.3 1066.5,515.6 1072.8,515.9 1079.1,518.2" fill="none" stroke="#e0336a" stroke-width="1.7" stroke-linejoin="round" stroke-linecap="round"/>
</g>
<rect x="4.6" y="500" width="9.7" height="31.5" rx="4" fill="#181a20" stroke="#23272e" stroke-width="1"/>
<path d="M8 513.6 L10.8 516 L8 518.4" fill="none" stroke="#848e9c" stroke-width="1.4"/>
<rect x="1173.3" y="198.6" width="49.2" height="23" rx="4" fill="#2ebd85"/>
<rect x="17.6" y="22.8" width="21.6" height="22.6" rx="6" fill="none" stroke="#2b3139" stroke-width="1"/>
<polygon points="28.40,28.40 30.10,32.05 34.11,32.55 31.16,35.30 31.93,39.25 28.40,37.30 24.87,39.25 25.64,35.30 22.69,32.55 26.70,32.05" fill="#5e6673" stroke="#5e6673" stroke-width="0.9" stroke-linejoin="round"/>
<circle cx="58.8" cy="33.9" r="10.2" fill="#f5f5f5"/>
<path d="M56.5 26.6 Q62 26.4 65.5 29.2 Q68 31.4 68 33.6 Q67.4 36.8 62 38.8 L57.6 40 Z" fill="url(#g2)"/>
<path d="M51.3 29.6 Q52 26.3 55.6 25.9 L58 27 Q58.6 33 58 38 Q57.8 42.7 55.6 43.3 Q53.2 42.8 52.2 40 Q51 36.5 51.1 33 Z" fill="url(#g1)"/>
<ellipse cx="61.6" cy="33.1" rx="2.6" ry="0.9" fill="#40f090"/>
<path d="M177.3 24.3 L183 24.3 L180.15 28 Z" fill="#eaecef" stroke="#eaecef" stroke-width="0.8" stroke-linejoin="round"/>
<path d="M139.2 47.6 L142.8 43.2 M140 42.9 L143 42.9 L143 46" fill="none" stroke="#848e9c" stroke-width="1"/>
<path d="M210.3 124.2 L215.7 124.2 L213 127.6 Z" fill="#848e9c" stroke="#848e9c" stroke-width="0.8" stroke-linejoin="round"/>
<g fill="#848e9c"><rect x="238" y="121.1" width="10.4" height="2"/><rect x="240" y="119.9" width="2.2" height="1.4"/><rect x="244.3" y="119.9" width="2.2" height="1.4"/><rect x="238" y="124.6" width="10.4" height="6.5"/></g><rect x="240.6" y="127.2" width="5.7" height="1.7" fill="#181a20"/>
<path d="M269.7 120.7 V130.1 H278.9" fill="none" stroke="#848e9c" stroke-width="2"/><path d="M271.6 126.9 L273.4 123 L275.1 125.4 L278.3 121.3" fill="none" stroke="#848e9c" stroke-width="1.4"/><circle cx="274.6" cy="127.6" r="0.8" fill="#848e9c"/>
<g fill="#848e9c"><rect x="299.5" y="122.7" width="1.8" height="9.1"/><rect x="297.5" y="125.1" width="5.6" height="4" rx="0.5"/><rect x="306.7" y="120" width="1.9" height="11.8"/><rect x="304.8" y="122.7" width="5.7" height="6.4" rx="0.5"/></g>
<g fill="#848e9c"><rect x="328.6" y="120.7" width="11.4" height="2"/><rect x="328.6" y="125.1" width="2.7" height="2"/><rect x="328.6" y="129.1" width="2.7" height="2"/><polygon points="336.40,123.90 340.12,126.05 340.12,130.35 336.40,132.50 332.68,130.35 332.68,126.05"/></g><circle cx="336.4" cy="128.2" r="1.6" fill="#181a20"/>
<path d="M370.29,125.82 L370.24,126.94 L368.65,127.55 L368.29,128.31 L368.82,129.93 L368.00,130.68 L366.44,129.99 L365.64,130.27 L364.88,131.79 L363.76,131.74 L363.15,130.15 L362.39,129.79 L360.77,130.32 L360.02,129.50 L360.71,127.94 L360.43,127.14 L358.91,126.38 L358.96,125.26 L360.55,124.65 L360.91,123.89 L360.38,122.27 L361.20,121.52 L362.76,122.21 L363.56,121.93 L364.32,120.41 L365.44,120.46 L366.05,122.05 L366.81,122.41 L368.43,121.88 L369.18,122.70 L368.49,124.26 L368.77,125.06 Z M366.4 126.1 a1.8 1.8 0 1 0 -3.6 0 a1.8 1.8 0 1 0 3.6 0 Z" fill="#848e9c" fill-rule="evenodd" stroke="#848e9c" stroke-width="0.5" stroke-linejoin="round"/>
<g fill="#848e9c" stroke="none"><path d="M1191.4 78.9 h5.9 v5.9 z"/><path d="M1185.4 85.1 v5.9 h5.9 z"/></g><path d="M1194.6 81.6 L1192.1 84.1 M1188.1 88.3 L1190.6 85.8" stroke="#848e9c" stroke-width="2.3" fill="none"/>
<g fill="#848e9c"><rect x="1215.9" y="77.2" width="5" height="4.9"/><path d="M1224.6 76.6 l3.2 3.2 l-3.2 3.2 l-3.2 -3.2 z"/><circle cx="1218.3" cy="86.4" r="2.8"/><rect x="1222.1" y="84" width="5" height="5"/></g>
<g fill="#848e9c"><rect x="1204.3" y="558" width="11.8" height="1.5"/><rect x="1204.3" y="568.6" width="11.8" height="1.5"/><path d="M1210.2 560.2 l3 3.2 h-2.2 v1.6 h2.2 l-3 3.2 l-3 -3.2 h2.2 v-1.6 h-2.2 z"/></g>
<path d="M18.9 160.29999999999998 L21.7 163.1 L24.5 160.29999999999998" fill="none" stroke="#848e9c" stroke-width="1.5"/>
<path d="M18.9 186.5 L21.7 189.3 L24.5 186.5" fill="none" stroke="#848e9c" stroke-width="1.5"/>
<path d="M18.9 461.9 L21.7 464.7 L24.5 461.9" fill="none" stroke="#848e9c" stroke-width="1.5"/>
</svg>
<span class="t" id="t0" style="left:78.1px;top:16.21px;font-size:18.3px;color:#eaecef;-webkit-text-stroke:0.5px #eaecef;transform:scaleX(0.9613)">CRV/USDT</span>
<span class="t" id="t1" style="left:78.1px;top:39.63px;font-size:11.3px;color:#848e9c;-webkit-text-stroke:0.12px #848e9c;transform:scaleX(0.9610)">Curve Price</span>
<span class="t" id="t2" style="left:204.2px;top:16.21px;font-size:18.3px;color:#2ebd85;-webkit-text-stroke:0.5px #2ebd85;transform:scaleX(0.9500)">1.0361</span>
<span class="t" id="t3" style="left:203.1px;top:39.63px;font-size:11.3px;color:#eaecef;-webkit-text-stroke:0.12px #eaecef;transform:scaleX(0.9607)">$1.03</span>
<span class="t" id="t4" style="left:274.7px;top:18.89px;font-size:11px;color:#848e9c;-webkit-text-stroke:0.12px #848e9c;transform:scaleX(0.9524)">24h Chg</span>
<span class="t" id="t5" style="left:274.7px;top:39.63px;font-size:11.3px;color:#2ebd85;-webkit-text-stroke:0.12px #2ebd85;transform:scaleX(0.9329)">0.1186 +12.93%</span>
<span class="t" id="t6" style="left:367.5px;top:18.89px;font-size:11px;color:#848e9c;-webkit-text-stroke:0.12px #848e9c;transform:scaleX(0.9841)">24h High</span>
<span class="t" id="t7" style="left:368.3px;top:39.63px;font-size:11.3px;color:#eaecef;-webkit-text-stroke:0.12px #eaecef;transform:scaleX(0.8771)">1.0356</span>
<span class="t" id="t8" style="left:426.8px;top:18.89px;font-size:11px;color:#848e9c;-webkit-text-stroke:0.12px #848e9c;transform:scaleX(0.9786)">24h Low</span>
<span class="t" id="t9" style="left:426.8px;top:39.63px;font-size:11.3px;color:#eaecef;-webkit-text-stroke:0.12px #eaecef;transform:scaleX(0.9257)">0.8956</span>
<span class="t" id="t10" style="left:483.9px;top:18.89px;font-size:11px;color:#848e9c;-webkit-text-stroke:0.12px #848e9c;transform:scaleX(0.9886)">24h Volume(CRV)</span>
<span class="t" id="t11" style="left:483.9px;top:39.63px;font-size:11.3px;color:#eaecef;-webkit-text-stroke:0.12px #eaecef;transform:scaleX(0.9444)">60,456,987.70</span>
<span class="t" id="t12" style="left:586.9px;top:18.89px;font-size:11px;color:#848e9c;-webkit-text-stroke:0.12px #848e9c;transform:scaleX(1.0021)">24h Volume(USDT)</span>
<span class="t" id="t13" style="left:586.9px;top:39.63px;font-size:11.3px;color:#eaecef;-webkit-text-stroke:0.12px #eaecef;transform:scaleX(0.9500)">58,709,376.63</span>
<span class="t" id="t14" style="left:698.1px;top:18.89px;font-size:11px;color:#848e9c;-webkit-text-stroke:0.12px #848e9c;transform:scaleX(1.0145)">Token Tags</span>
<span class="t" id="t15" style="left:698.1px;top:39.63px;font-size:11.3px;color:#e6b10b;-webkit-text-stroke:0.12px #e6b10b;transform:scaleX(0.9083)">DeFi</span>
<span class="t" id="t16" style="left:17.5px;top:74.40px;font-size:15px;color:#eaecef;-webkit-text-stroke:0.45px #eaecef;transform:scaleX(0.8703)">Chart</span>
<span class="t" id="t17" style="left:73.9px;top:74.40px;font-size:15px;color:#848e9c;-webkit-text-stroke:0.2px #848e9c;transform:scaleX(0.9600)">Info</span>
<span class="t" id="t18" style="left:121.6px;top:74.40px;font-size:15px;color:#848e9c;-webkit-text-stroke:0.2px #848e9c;transform:scaleX(0.8837)">Trading Data</span>
<span class="t" id="t19" style="left:221.1px;top:74.40px;font-size:15px;color:#848e9c;-webkit-text-stroke:0.2px #848e9c;transform:scaleX(0.8771)">Square</span>
<span class="t" id="t20" style="left:18.4px;top:118.50px;font-size:12.4px;color:#848e9c;-webkit-text-stroke:0.15px #848e9c;transform:scaleX(0.9370)">Time</span>
<span class="t" id="t21" style="left:54.2px;top:118.50px;font-size:12.4px;color:#848e9c;-webkit-text-stroke:0.15px #848e9c;transform:scaleX(0.8308)">1s</span>
<span class="t" id="t22" style="left:75.5px;top:118.50px;font-size:12.4px;color:#848e9c;-webkit-text-stroke:0.15px #848e9c;transform:scaleX(0.8667)">15m</span>
<span class="t" id="t23" style="left:107.1px;top:118.50px;font-size:12.4px;color:#848e9c;-webkit-text-stroke:0.15px #848e9c;transform:scaleX(0.7938)">1H</span>
<span class="t" id="t24" style="left:129.9px;top:118.50px;font-size:12.4px;color:#848e9c;-webkit-text-stroke:0.15px #848e9c;transform:scaleX(0.8438)">4H</span>
<span class="t" id="t25" style="left:154.1px;top:118.50px;font-size:12.4px;color:#eaecef;-webkit-text-stroke:0.3px #eaecef;transform:scaleX(0.8000)">1D</span>
<span class="t" id="t26" style="left:177.4px;top:118.50px;font-size:12.4px;color:#848e9c;-webkit-text-stroke:0.15px #848e9c;transform:scaleX(0.8053)">1W</span>
<span class="t" id="t27" style="left:1063.5px;top:118.53px;font-size:12.6px;color:#eaecef;-webkit-text-stroke:0.3px #eaecef;transform:scaleX(0.9372)">Original</span>
<span class="t" id="t28" style="left:1119.8px;top:118.53px;font-size:12.6px;color:#848e9c;-webkit-text-stroke:0.15px #848e9c;transform:scaleX(0.9096)">Trading View</span>
<span class="t" id="t29" style="left:1201.6px;top:118.53px;font-size:12.6px;color:#848e9c;-webkit-text-stroke:0.15px #848e9c;transform:scaleX(0.9059)">Depth</span>
<span class="t" id="t30" style="left:31.7px;top:156.16px;font-size:10.8px;color:#848e9c;-webkit-text-stroke:0.12px #848e9c;transform:scaleX(1.0296)">2025/08/13</span>
<span class="t" id="t31" style="left:95.5px;top:156.16px;font-size:10.8px;color:#848e9c;-webkit-text-stroke:0.12px #848e9c;transform:scaleX(1.0241)">Open:</span>
<span class="t" id="t32" style="left:133.9px;top:156.16px;font-size:10.8px;color:#2ebd85;-webkit-text-stroke:0.12px #2ebd85;transform:scaleX(0.9636)">0.9792</span>
<span class="t" id="t33" style="left:174.4px;top:156.16px;font-size:10.8px;color:#848e9c;-webkit-text-stroke:0.12px #848e9c;transform:scaleX(1.0120)">High:</span>
<span class="t" id="t34" style="left:209.1px;top:156.16px;font-size:10.8px;color:#2ebd85;-webkit-text-stroke:0.12px #2ebd85;transform:scaleX(0.9394)">1.0366</span>
<span class="t" id="t35" style="left:248.8px;top:156.16px;font-size:10.8px;color:#848e9c;-webkit-text-stroke:0.12px #848e9c;transform:scaleX(0.9913)">Low:</span>
<span class="t" id="t36" style="left:280.3px;top:156.16px;font-size:10.8px;color:#2ebd85;-webkit-text-stroke:0.12px #2ebd85;transform:scaleX(0.9727)">0.9637</span>
<span class="t" id="t37" style="left:320.6px;top:156.16px;font-size:10.8px;color:#848e9c;-webkit-text-stroke:0.12px #848e9c;transform:scaleX(1.0000)">Close:</span>
<span class="t" id="t38" style="left:360.8px;top:156.16px;font-size:10.8px;color:#2ebd85;-webkit-text-stroke:0.12px #2ebd85;transform:scaleX(0.9394)">1.0363</span>
<span class="t" id="t39" style="left:400.0px;top:156.16px;font-size:10.8px;color:#848e9c;-webkit-text-stroke:0.12px #848e9c;transform:scaleX(0.9714)">CHANGE:</span>
<span class="t" id="t40" style="left:455.8px;top:156.16px;font-size:10.8px;color:#2ebd85;-webkit-text-stroke:0.12px #2ebd85;transform:scaleX(0.9355)">5.83%</span>
<span class="t" id="t41" style="left:493.5px;top:156.16px;font-size:10.8px;color:#848e9c;-webkit-text-stroke:0.12px #848e9c;transform:scaleX(0.9908)">AMPLITUDE:</span>
<span class="t" id="t42" style="left:566.6px;top:156.16px;font-size:10.8px;color:#2ebd85;-webkit-text-stroke:0.12px #2ebd85;transform:scaleX(0.9355)">7.44%</span>
<span class="t" id="t43" style="left:31.7px;top:181.96px;font-size:10.8px;color:#848e9c;-webkit-text-stroke:0.12px #848e9c;transform:scaleX(1.0094)">MA(7):</span>
<span class="t" id="t44" style="left:72.7px;top:181.96px;font-size:10.8px;color:#f0b90b;-webkit-text-stroke:0.12px #f0b90b;transform:scaleX(0.9545)">0.9707</span>
<span class="t" id="t45" style="left:112.8px;top:181.96px;font-size:10.8px;color:#848e9c;-webkit-text-stroke:0.12px #848e9c;transform:scaleX(1.0000)">MA(25):</span>
<span class="t" id="t46" style="left:160.0px;top:181.96px;font-size:10.8px;color:#eb40b5;-webkit-text-stroke:0.12px #eb40b5;transform:scaleX(0.9394)">0.9651</span>
<span class="t" id="t47" style="left:200.4px;top:181.96px;font-size:10.8px;color:#848e9c;-webkit-text-stroke:0.12px #848e9c;transform:scaleX(1.0053)">MA(99):</span>
<span class="t" id="t48" style="left:247.3px;top:181.96px;font-size:10.8px;color:#b385f8;-webkit-text-stroke:0.12px #b385f8;transform:scaleX(0.9606)">0.7383</span>
<span class="t" id="t55" style="left:929.0px;top:164.71px;font-size:10.5px;color:#eaecef;-webkit-text-stroke:0.12px #eaecef;transform:scaleX(0.8906)">1.1626</span>
<span class="t" id="t56" style="left:58.0px;top:417.31px;font-size:10.5px;color:#eaecef;-webkit-text-stroke:0.12px #eaecef;transform:scaleX(0.8906)">0.3470</span>
<span class="t" id="t65" style="left:1182.5px;top:205.66px;font-size:10.8px;color:#ffffff;-webkit-text-stroke:0.12px #ffffff;transform:scaleX(0.9485)">1.0363</span>
<span class="t" id="t66" style="left:1181.4px;top:477.66px;font-size:10.8px;color:#b7bdc6;-webkit-text-stroke:0.12px #b7bdc6;transform:scaleX(0.9519)">100M</span>
<span class="t" id="t67" style="left:1181.0px;top:509.56px;font-size:10.8px;color:#b7bdc6;-webkit-text-stroke:0.12px #b7bdc6;transform:scaleX(0.9714)">50M</span>
<span class="t" id="t68" style="left:23.8px;top:559.76px;font-size:10.8px;color:#b7bdc6;-webkit-text-stroke:0.12px #b7bdc6;transform:scaleX(0.9926)">03/01</span>
<span class="t" id="t69" style="left:219.5px;top:559.76px;font-size:10.8px;color:#b7bdc6;-webkit-text-stroke:0.12px #b7bdc6;transform:scaleX(0.9926)">04/01</span>
<span class="t" id="t70" style="left:409.0px;top:559.76px;font-size:10.8px;color:#b7bdc6;-webkit-text-stroke:0.12px #b7bdc6;transform:scaleX(0.9926)">05/01</span>
<span class="t" id="t71" style="left:604.8px;top:559.76px;font-size:10.8px;color:#b7bdc6;-webkit-text-stroke:0.12px #b7bdc6;transform:scaleX(0.9926)">06/01</span>
<span class="t" id="t72" style="left:794.2px;top:559.76px;font-size:10.8px;color:#b7bdc6;-webkit-text-stroke:0.12px #b7bdc6;transform:scaleX(0.9926)">07/01</span>
<span class="t" id="t73" style="left:990.0px;top:559.76px;font-size:10.8px;color:#b7bdc6;-webkit-text-stroke:0.12px #b7bdc6;transform:scaleX(0.9926)">08/01</span>
<span class="t" id="t74" style="left:17.3px;top:598.74px;font-size:14.6px;color:#eaecef;-webkit-text-stroke:0.45px #eaecef;transform:scaleX(0.9010)">Open Orders(0)</span>
<span class="t" id="t75" style="left:125.4px;top:598.74px;font-size:14.6px;color:#848e9c;-webkit-text-stroke:0.2px #848e9c;transform:scaleX(0.9253)">Order History</span>
<span class="t" id="t76" style="left:221.8px;top:598.74px;font-size:14.6px;color:#848e9c;-webkit-text-stroke:0.2px #848e9c;transform:scaleX(0.9333)">Trade History</span>
<span class="t" id="t77" style="left:318.6px;top:598.74px;font-size:14.6px;color:#848e9c;-webkit-text-stroke:0.2px #848e9c;transform:scaleX(0.8878)">Funds</span>
<span class="t" id="t78" style="left:370.6px;top:598.74px;font-size:14.6px;color:#848e9c;-webkit-text-stroke:0.2px #848e9c;transform:scaleX(0.9310)">Bots</span>
</body></html>
